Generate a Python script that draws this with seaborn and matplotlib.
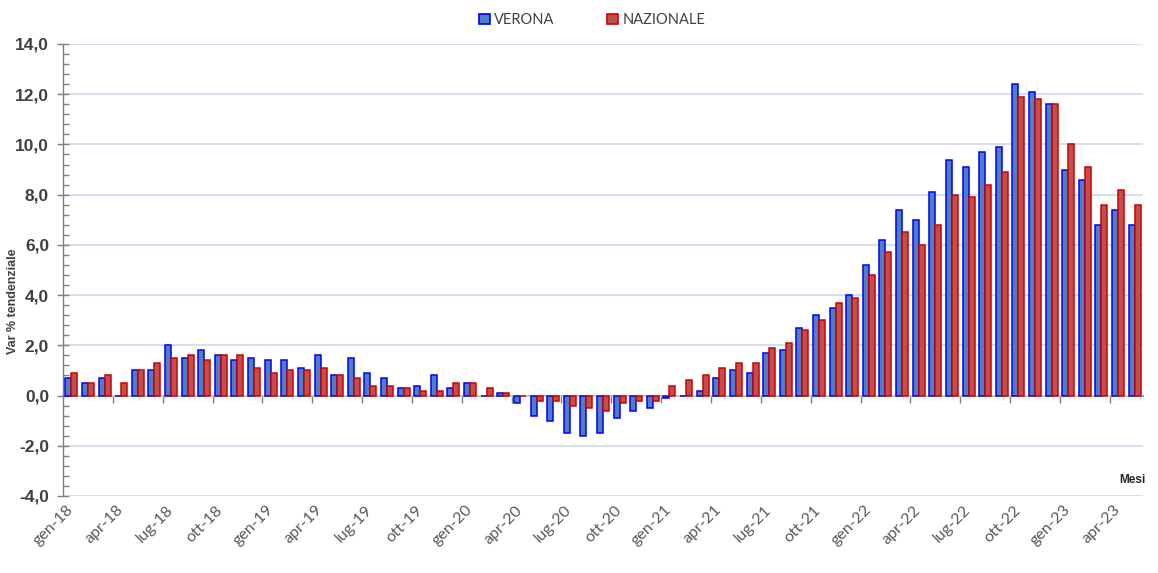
import numpy as np
import pandas as pd
import seaborn as sns
import matplotlib
matplotlib.use("Agg")
import matplotlib.pyplot as plt
import matplotlib.transforms as mtransforms
from matplotlib.ticker import FuncFormatter, MultipleLocator
from matplotlib.patches import Patch

# ---------------- data ----------------
MONTHS = ["gen", "feb", "mar", "apr", "mag", "giu", "lug", "ago", "set", "ott", "nov", "dic"]
YEARS = ["18", "19", "20", "21", "22", "23"]
N_MONTHS = 65  # gen-18 .. mag-23
labels = [f"{m}-{y}" for y in YEARS for m in MONTHS][:N_MONTHS]

SERIES = ["VERONA", "NAZIONALE"]

verona = [
    0.7, 0.5, 0.7, 0.0, 1.0, 1.0, 2.0, 1.5, 1.8, 1.6, 1.4, 1.5,        # 2018
    1.4, 1.4, 1.1, 1.6, 0.8, 1.5, 0.9, 0.7, 0.3, 0.4, 0.8, 0.3,        # 2019
    0.5, 0.0, 0.1, -0.3, -0.8, -1.0, -1.5, -1.6, -1.5, -0.9, -0.6, -0.5,  # 2020
    -0.1, 0.0, 0.2, 0.7, 1.0, 0.9, 1.7, 1.8, 2.7, 3.2, 3.5, 4.0,       # 2021
    5.2, 6.2, 7.4, 7.0, 8.1, 9.4, 9.1, 9.7, 9.9, 12.4, 12.1, 11.6,     # 2022
    9.0, 8.6, 6.8, 7.4, 6.8,                                           # 2023
]
nazionale = [
    0.9, 0.5, 0.8, 0.5, 1.0, 1.3, 1.5, 1.6, 1.4, 1.6, 1.6, 1.1,        # 2018
    0.9, 1.0, 1.0, 1.1, 0.8, 0.7, 0.4, 0.4, 0.3, 0.2, 0.2, 0.5,        # 2019
    0.5, 0.3, 0.1, 0.0, -0.2, -0.2, -0.4, -0.5, -0.6, -0.3, -0.2, -0.2,  # 2020
    0.4, 0.6, 0.8, 1.1, 1.3, 1.3, 1.9, 2.1, 2.6, 3.0, 3.7, 3.9,        # 2021
    4.8, 5.7, 6.5, 6.0, 6.8, 8.0, 7.9, 8.4, 8.9, 11.9, 11.8, 11.6,     # 2022
    10.0, 9.1, 7.6, 8.2, 7.6,                                          # 2023
]

FILL = ["#4f7fbf", "#c0504d"]
EDGE = ["#0000ff", "#d10000"]

# ---------------- plot ----------------
sns.set_theme(style="white")
plt.rcParams["font.family"] = ["Liberation Sans", "DejaVu Sans"]

fig = plt.figure(figsize=(11.58, 5.73), dpi=100)
ax = fig.add_axes([63 / 1158, 77 / 573, 1080 / 1158, 452 / 573])

df = pd.DataFrame({
    "Mese": labels * 2,
    "Serie": [SERIES[0]] * len(verona) + [SERIES[1]] * len(nazionale),
    "Valore": verona + nazionale,
})
sns.barplot(data=df, x="Mese", y="Valore", hue="Serie", order=labels,
            hue_order=SERIES, palette=FILL, width=0.72, saturation=1,
            errorbar=None, legend=False, ax=ax, zorder=3)
for cont, ec in zip(ax.containers, EDGE):
    for p in cont:
        p.set_edgecolor(ec)
        p.set_linewidth(1.1)

ax.set_xlim(-0.5, len(labels) - 0.5)
ax.set_ylim(-4, 14)

# y axis
ax.yaxis.set_major_locator(MultipleLocator(2))
ax.yaxis.set_minor_locator(MultipleLocator(0.4))
ax.yaxis.set_major_formatter(FuncFormatter(lambda v, p: f"{v:.1f}".replace(".", ",")))
ax.tick_params(axis="y", which="major", direction="inout", length=8, width=1,
               color="#7f7f7f", labelsize=12.5, labelcolor="#404040", pad=6, left=True)
ax.tick_params(axis="y", which="minor", direction="in", length=4, width=1,
               color="#7f7f7f", left=True)
for t in ax.get_yticklabels():
    t.set_fontweight("bold")
ax.yaxis.grid(True, which="major", color="#ccdaee", lw=1.2, zorder=0)
ax.set_axisbelow(True)
ax.set_ylabel("Var % tendenziale", fontsize=9, fontweight="bold", color="#404040")
ax.yaxis.set_label_coords(-0.041, 0.43)

# x axis labels at bottom
ticks = list(range(0, len(labels), 3))
ax.set_xticks(ticks)
ax.set_xticklabels([labels[i] for i in ticks], rotation=45, ha="right",
                   rotation_mode="anchor", fontsize=11.5, color="#595959",
                   fontfamily=["Lato", "DejaVu Sans"])
ax.tick_params(axis="x", length=0, pad=5, bottom=False)
shift = mtransforms.ScaledTranslation(-5 / 100, 0, fig.dpi_scale_trans)
for t in ax.get_xticklabels():
    t.set_transform(t.get_transform() + shift)
ax.set_xlabel("")

for s in ["top", "right", "bottom"]:
    ax.spines[s].set_visible(False)
ax.spines["left"].set_color("#7f7f7f")
ax.spines["left"].set_linewidth(1)

# category axis crossing at zero
sec = ax.secondary_xaxis(4 / 18)
sec.set_xticks(np.arange(2.5, len(labels) - 0.5, 3))
sec.tick_params(axis="x", length=5, width=1, color="#7f7f7f",
                labelbottom=False, labeltop=False)
sec.spines["bottom"].set_color("#595959")
sec.spines["bottom"].set_linewidth(1.2)

fig.text(1145 / 1158, (573 - 480) / 573, "Mesi", ha="right", va="center",
         fontsize=8.5, fontweight="bold", color="#262626")

handles = [Patch(facecolor=f, edgecolor=e, linewidth=1.2) for f, e in zip(FILL, EDGE)]
fig.legend(handles, SERIES, loc="center", bbox_to_anchor=(0.5115, 0.965), ncol=2,
           frameon=False, columnspacing=3.6, handlelength=0.75, handleheight=0.75,
           handletextpad=0.3, prop={"family": ["Lato", "DejaVu Sans"], "size": 10.5},
           labelcolor="#404040")

fig.savefig("out.png", dpi=100)
